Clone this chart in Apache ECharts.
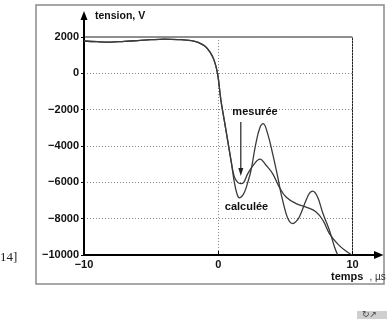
<!DOCTYPE html>
<html lang="fr">
<head>
    <meta charset="UTF-8">
    <title>tension / temps</title>
    <style>
        * {
            margin: 0;
            padding: 0;
        }

        body {
            background-color: #fff;
        }

        #myEcharts {
            width: 387px;
            height: 319px;
        }
    </style>
</head>
<body>
    <div id="myEcharts"></div>
    <script src="https://cdn.jsdelivr.net/npm/echarts@6.0.0/dist/echarts.min.js"></script>
    <script>
        // partie commune avant la chute (les deux courbes se confondent)
        var tCommun = [-10, -9, -8, -7, -6, -5, -4, -3, -2, -1.5, -1, -0.6, -0.3, -0.05, 0.2, 0.45, 0.7, 0.95];
        var vCommun = [1780, 1740, 1720, 1760, 1800, 1850, 1880, 1860, 1800, 1700, 1500, 1150, 700, -20, -1490, -2590, -3690, -4790];

        // courbe calculée (grandes oscillations)
        var tCalculee = [1.2, 1.4, 1.57, 1.75, 1.95, 2.2, 2.44, 2.8, 3.1, 3.35, 3.68, 4.05, 4.43, 4.68, 5.05, 5.3, 5.55, 5.8, 6.04, 6.54, 6.8, 7.04, 7.4, 7.8, 8.28, 8.66, 8.9];
        var vCalculee = [-6000, -6650, -6850, -6780, -6550, -6000, -5340, -3870, -3000, -2770, -3320, -4420, -5700, -6620, -7720, -8150, -8270, -8150, -7910, -6990, -6600, -6480, -6810, -7720, -8640, -9560, -10000];

        // courbe mesurée
        var tMesuree = [1.2, 1.45, 1.68, 1.9, 2.2, 2.7, 3.1, 3.56, 4.05, 4.55, 5.05, 5.8, 6.54, 7.29, 7.8, 8.28, 9.0, 9.78, 10];
        var vMesuree = [-5700, -6000, -6070, -6000, -5520, -4970, -4720, -5060, -5520, -6260, -6810, -7170, -7360, -7630, -8090, -8820, -9470, -9920, -10000];

        var yTicks = { min: -10000, max: 2000, interval: 2000 };
        var xTicks = { min: -10, max: 10, interval: 10 };

        function paires(ts, vs) {
            var out = [];
            for (var i = 0; i < tCommun.length; i++) {
                out.push([tCommun[i], vCommun[i]]);
            }
            for (var j = 0; j < ts.length; j++) {
                out.push([ts[j], vs[j]]);
            }
            return out;
        }

        function moins(v) {
            return String(v).replace('-', '\u2212');
        }

        var font = '"Liberation Sans", Arial, sans-serif';
        var lineColor = '#3a3a3a';

        var myEcharts = echarts.init(document.getElementById('myEcharts'));

        var option = {
            animation: false,
            backgroundColor: '#fff',
            grid: {
                left: 84,
                top: 37,
                right: 34.5,
                bottom: 64,
                show: true,
                borderColor: '#222',
                borderWidth: 1
            },
            xAxis: {
                type: 'value',
                min: xTicks.min,
                max: xTicks.max,
                interval: xTicks.interval,
                axisLine: { onZero: false, lineStyle: { color: '#000', width: 2 } },
                axisTick: { inside: true, length: 4, lineStyle: { color: '#000' } },
                axisLabel: {
                    margin: 4,
                    color: '#111',
                    fontFamily: font,
                    fontWeight: 'bold',
                    fontSize: 11,
                    formatter: moins
                },
                splitLine: {
                    show: true,
                    lineStyle: { color: '#888', type: [1, 2], width: 1 }
                }
            },
            yAxis: {
                type: 'value',
                min: yTicks.min,
                max: yTicks.max,
                interval: yTicks.interval,
                axisLine: { onZero: false, lineStyle: { color: '#000', width: 2 } },
                axisTick: { length: 3, lineStyle: { color: '#000' } },
                axisLabel: {
                    margin: 5,
                    color: '#111',
                    fontFamily: font,
                    fontWeight: 'bold',
                    fontSize: 11,
                    formatter: moins
                },
                splitLine: {
                    show: true,
                    lineStyle: { color: '#888', type: [1, 2], width: 1 }
                }
            },
            series: [
                {
                    name: 'calculée',
                    type: 'line',
                    data: paires(tCalculee, vCalculee),
                    smooth: 0.4,
                    showSymbol: false,
                    lineStyle: { color: lineColor, width: 1.3 }
                },
                {
                    name: 'mesurée',
                    type: 'line',
                    data: paires(tMesuree, vMesuree),
                    smooth: 0.4,
                    showSymbol: false,
                    lineStyle: { color: lineColor, width: 1.3 }
                }
            ]
        };

        myEcharts.setOption(option);

        // décor : flèches des axes, titres, étiquettes des courbes
        var px = function (x, y) {
            return myEcharts.convertToPixel({ gridIndex: 0 }, [x, y]);
        };
        var origine = px(xTicks.min, yTicks.min);
        var coinHaut = px(xTicks.min, yTicks.max);
        var coinDroit = px(xTicks.max, yTicks.min);
        var flecheMes = px(1.68, -2800);
        var pointeMes = px(1.68, -5650);

        var textStyle = function (txt, size, weight) {
            return {
                text: txt,
                fill: '#111',
                font: weight + ' ' + size + 'px ' + font
            };
        };

        myEcharts.setOption({
            graphic: [
                // cadre extérieur
                {
                    type: 'rect',
                    shape: { x: 36, y: 5, width: 348, height: 279 },
                    style: { fill: 'none', stroke: '#8a8a8a', lineWidth: 1.5 },
                    silent: true
                },
                // prolongement de l'axe vertical + flèche
                {
                    type: 'line',
                    shape: { x1: coinHaut[0], y1: coinHaut[1], x2: coinHaut[0], y2: 18 },
                    style: { stroke: '#000', lineWidth: 2 }
                },
                {
                    type: 'polygon',
                    shape: { points: [[coinHaut[0] - 3.5, 20], [coinHaut[0] + 3.5, 20], [coinHaut[0], 11]] },
                    style: { fill: '#000' }
                },
                // prolongement de l'axe horizontal + flèche
                {
                    type: 'line',
                    shape: { x1: coinDroit[0], y1: origine[1], x2: 376, y2: origine[1] },
                    style: { stroke: '#000', lineWidth: 2 }
                },
                {
                    type: 'polygon',
                    shape: { points: [[374, origine[1] - 4], [374, origine[1] + 4], [383.5, origine[1]]] },
                    style: { fill: '#000' }
                },
                // titres des axes
                {
                    type: 'text',
                    x: 95,
                    y: 16,
                    style: Object.assign(textStyle('tension, V', 10.5, 'bold'), { textVerticalAlign: 'middle' })
                },
                {
                    type: 'text',
                    x: 331,
                    y: 277,
                    style: {
                        text: '{a|temps} {b| , µs}',
                        textVerticalAlign: 'middle',
                        rich: {
                            a: { fontFamily: font, fontWeight: 'bold', fontSize: 11, fill: '#111' },
                            b: { fontFamily: font, fontSize: 10, fill: '#333' }
                        }
                    }
                },
                // étiquettes des courbes
                {
                    type: 'text',
                    x: 255,
                    y: 112,
                    style: Object.assign(textStyle('mesurée', 11, 'bold'), { textAlign: 'center', textVerticalAlign: 'middle' })
                },
                {
                    type: 'text',
                    x: 246.5,
                    y: 207,
                    style: Object.assign(textStyle('calculée', 11, 'bold'), { textAlign: 'center', textVerticalAlign: 'middle' })
                },
                {
                    type: 'line',
                    shape: { x1: flecheMes[0], y1: 122, x2: pointeMes[0], y2: pointeMes[1] - 6 },
                    style: { stroke: '#222', lineWidth: 1.2 }
                },
                {
                    type: 'polygon',
                    shape: {
                        points: [[pointeMes[0] - 2.5, pointeMes[1] - 8], [pointeMes[0] + 2.5, pointeMes[1] - 8], [pointeMes[0], pointeMes[1]]]
                    },
                    style: { fill: '#222' }
                },
                // renvoi bibliographique (coupé à gauche)
                {
                    type: 'text',
                    x: 0,
                    y: 258,
                    style: {
                        text: '14]',
                        fill: '#222',
                        font: '13px "Liberation Serif", serif',
                        textVerticalAlign: 'middle'
                    }
                },
                // petite icône grise en bas à droite
                {
                    type: 'rect',
                    shape: { x: 357, y: 311, width: 30, height: 8 },
                    style: { fill: '#cfcfcf' }
                },
                {
                    type: 'text',
                    x: 362,
                    y: 315,
                    style: { text: '↻↗', fill: '#444', font: '9px "DejaVu Sans"', textVerticalAlign: 'middle' }
                }
            ]
        });
    </script>
</body>
</html>
